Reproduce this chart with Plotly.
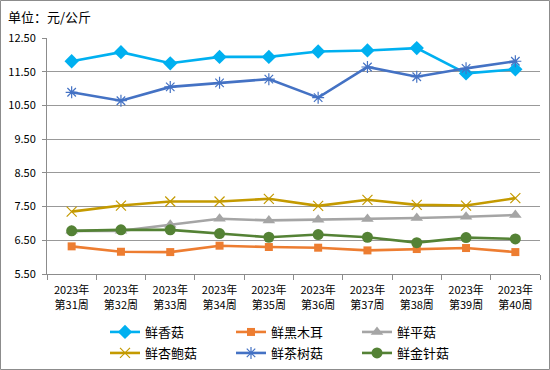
import plotly.graph_objects as go

categories = ["2023年<br>第%d周" % w for w in range(31, 41)]

xianggu = [11.81, 12.08, 11.75, 11.94, 11.94, 12.10, 12.13, 12.20, 11.45, 11.57]
heimuer = [6.32, 6.16, 6.15, 6.34, 6.30, 6.28, 6.20, 6.24, 6.27, 6.15]
pinggu = [6.78, 6.78, 6.96, 7.14, 7.09, 7.11, 7.13, 7.16, 7.20, 7.25]
xingbaogu = [7.35, 7.53, 7.65, 7.65, 7.73, 7.52, 7.70, 7.55, 7.53, 7.75]
chashugu = [10.89, 10.64, 11.05, 11.17, 11.28, 10.73, 11.64, 11.35, 11.60, 11.81]
jinzhengu = [6.78, 6.81, 6.81, 6.70, 6.59, 6.67, 6.59, 6.43, 6.58, 6.54]

y_ticks = [5.5, 6.5, 7.5, 8.5, 9.5, 10.5, 11.5, 12.5]

series = [
    ("鲜香菇", xianggu, "#00B0F0", dict(symbol="diamond", size=11)),
    ("鲜黑木耳", heimuer, "#ED7D31", dict(symbol="square", size=8)),
    ("鲜平菇", pinggu, "#A5A5A5", dict(symbol="triangle-up", size=11)),
    ("鲜杏鲍菇", xingbaogu, "#C49A00", dict(symbol="x-thin", size=10, line=dict(width=1.2, color="#C49A00"))),
    ("鲜茶树菇", chashugu, "#4472C4", dict(symbol="asterisk-open", size=10, line=dict(width=1.2, color="#5B86D6"))),
    ("鲜金针菇", jinzhengu, "#548235", dict(symbol="circle", size=11)),
]

W, H = 550, 370
L, R, T, B = 47, 10, 38, 96
pw, ph = W - L - R, H - T - B

def px_x(px):
    return (px - L) / pw

def px_y(py):
    return (H - B - py) / ph

font = "Noto Sans CJK SC, Noto Sans, sans-serif"

legend_pos = [(105, 332), (231, 332), (357, 332), (105, 353), (231, 353), (357, 353)]
legend_names = ["legend", "legend2", "legend3", "legend4", "legend5", "legend6"]

fig = go.Figure()
for (name, vals, color, mk), lg in zip(series, legend_names):
    fig.add_trace(go.Scatter(
        x=categories, y=vals, name=name, mode="lines+markers",
        line=dict(color=color, width=2.6),
        marker=dict(color=color, **mk),
        legend=lg, showlegend=True,
    ))

legend_layout = {}
for lg, (lx, ly) in zip(legend_names, legend_pos):
    legend_layout[lg] = dict(
        orientation="h", xref="container", yref="container",
        x=lx / W, y=1 - ly / H, xanchor="left", yanchor="middle",
        font=dict(size=13, family=font), bgcolor="rgba(0,0,0,0)", itemwidth=30,
    )

fig.update_layout(
    width=W, height=H,
    showlegend=True,
    margin=dict(l=L, r=R, t=T, b=B),
    paper_bgcolor="white", plot_bgcolor="white",
    font=dict(family=font, size=11, color="#000000"),
    title=dict(text="单位：元/公斤", xref="container", yref="container",
               x=8 / W, y=1 - 17 / H, xanchor="left", yanchor="middle",
               font=dict(size=13, family=font, color="#000000")),
    xaxis=dict(type="category", showline=True, linecolor="#8c8c8c", linewidth=1,
               ticks="outside", tickson="boundaries", ticklen=5, tickcolor="#8c8c8c",
               showgrid=False, tickfont=dict(size=11), range=[-0.5, 9.5],
               ticklabelstandoff=6, automargin=False),
    yaxis=dict(range=[5.5, 12.5], tickvals=y_ticks, tickformat=".2f",
               showline=True, linecolor="#8c8c8c", linewidth=1,
               ticks="outside", ticklen=4, tickcolor="#8c8c8c",
               showgrid=True, gridcolor="#999999", gridwidth=1,
               tickfont=dict(size=11), zeroline=False, ticklabelstandoff=4,
               automargin=False),
    shapes=[dict(type="rect", xref="paper", yref="paper",
                 x0=px_x(0.5), x1=px_x(W - 0.5), y0=px_y(H - 0.5), y1=px_y(0.5),
                 line=dict(color="#8c8c8c", width=1), fillcolor="rgba(0,0,0,0)", layer="below")],
    **legend_layout,
)

fig.write_html("out.html", config={"displayModeBar": False},
               post_script="document.body.style.margin='0';document.body.style.overflow='hidden';")
